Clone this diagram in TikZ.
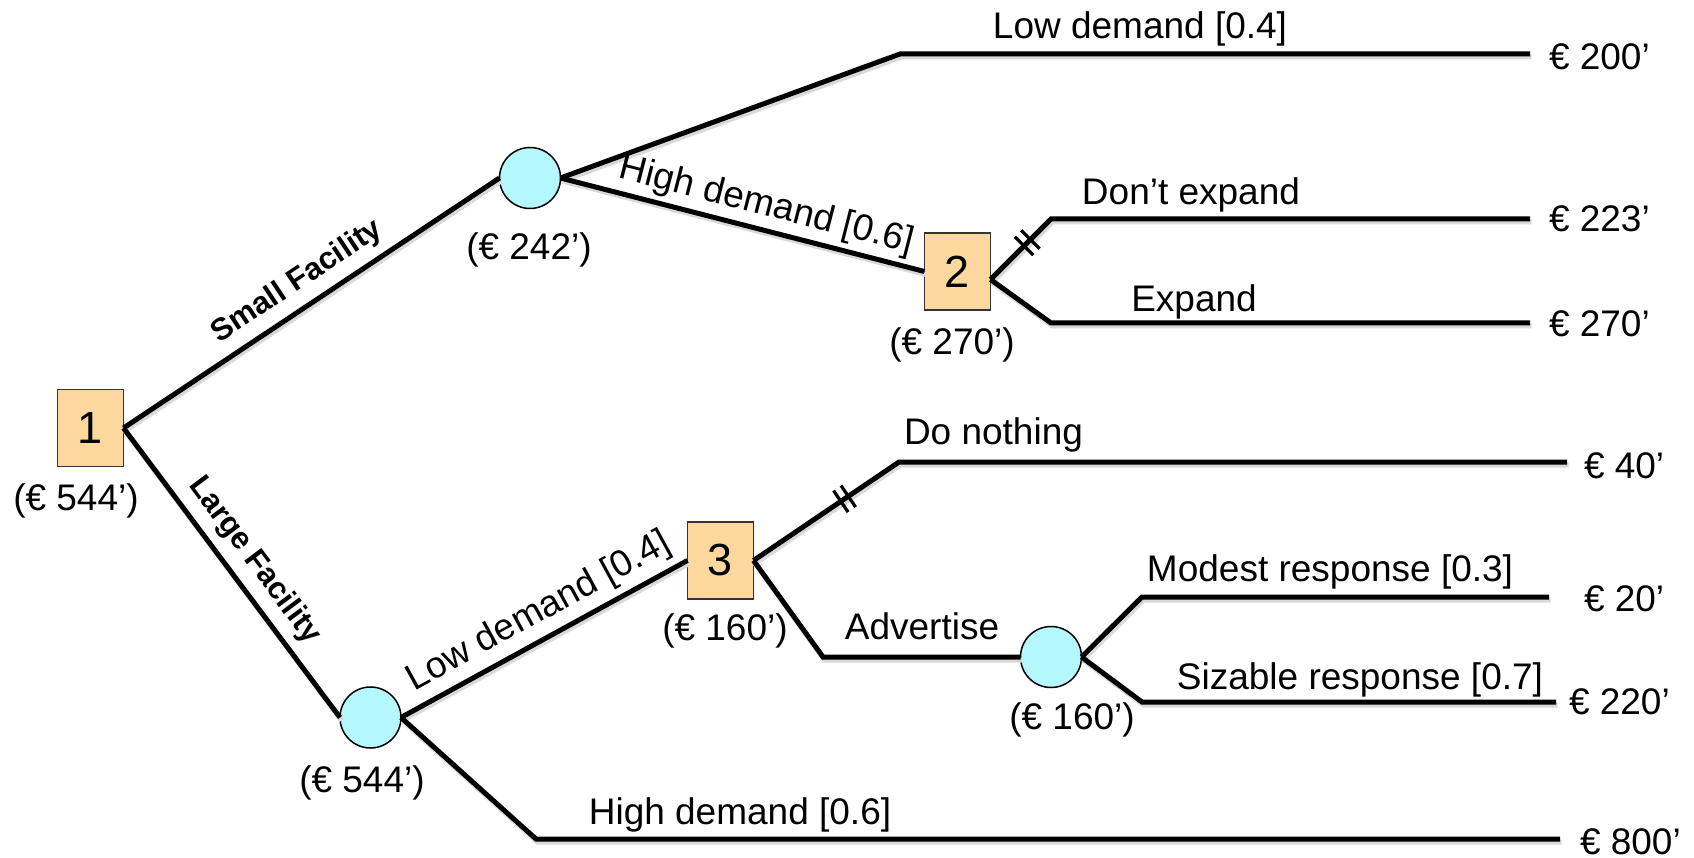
\documentclass[tikz,border=0pt]{standalone}
\usepackage{fontspec}
\setmainfont{Liberation Sans}
\usetikzlibrary{calc,decorations.markings}
\definecolor{decfill}{HTML}{FCD89E}
\definecolor{chfill}{HTML}{B4F7FC}
\begin{document}
\begin{tikzpicture}[x=1pt,y=-1pt,
 every node/.style={inner sep=0pt,outer sep=0pt},
 decbox/.style={rectangle,draw=black!80,line width=1.5pt,fill=decfill,minimum width=66pt,minimum height=77pt,font=\fontsize{45}{45}\selectfont},
 chnode/.style={circle,draw=black,line width=1.5pt,fill=chfill,minimum size=61pt},
 branch/.style={line width=5pt,preaction={draw=black!15,line width=5pt,transform canvas={shift={(1.5pt,-3pt)}}}},
 txt/.style={font=\fontsize{37}{40}\selectfont,anchor=base},
 val/.style={font=\fontsize{37}{40}\selectfont,anchor=base west},
 fac/.style={font=\bfseries\fontsize{31}{34}\selectfont,sloped,above=11pt},
 slab/.style={font=\fontsize{37}{40}\selectfont,sloped},
 dticks/.style={postaction={decorate},decoration={markings,mark=at position #1 with {\draw[line width=3.2pt] (-4.5pt,-13pt) -- (-4.5pt,13pt) (4.5pt,-13pt) -- (4.5pt,13pt);}}}
]
\useasboundingbox (0,0) rectangle (1694,858);

% decision and chance nodes
\node[decbox] (box1) at (90.5,428) {1};
\node[chnode] (circA) at (530,178) {};
\node[decbox] (box2) at (957.5,271.5) {2};
\node[chnode] (circB) at (370.5,717.5) {};
\node[decbox] (box3) at (720.5,560.5) {3};
\node[chnode] (circC) at (1051,657) {};

% bends and branch ends
\coordinate (kA) at (900,54);   \coordinate (eA) at (1530,54);
\coordinate (k2u) at (1051,219); \coordinate (e2u) at (1530,219);
\coordinate (k2d) at (1051,323); \coordinate (e2d) at (1530,323);
\coordinate (k3u) at (899,462);  \coordinate (e3u) at (1567,462);
\coordinate (k3d) at (823,657);
\coordinate (kCu) at (1142,597); \coordinate (eCu) at (1549,597);
\coordinate (kCd) at (1142,702); \coordinate (eCd) at (1556,702);
\coordinate (kB) at (536,839);   \coordinate (eB) at (1560,839);
\coordinate (o2) at ($(box2.east)+(0,8)$);

% connectors
\draw[branch] (box1.east) -- node[fac,pos=0.5] (lsf) {Small Facility} (circA.west);
\draw[branch] (box1.east) -- node[fac,pos=0.51] (llf) {Large Facility} (circB.west);
\draw[branch] (circA.east) -- (kA) -- (eA);
\draw[branch] (circA.east) -- node[slab,above=7pt,pos=0.55] (lhA) {High demand [0.6]} (box2.west);
\draw[branch,dticks=52pt] (o2) -- (k2u) -- (e2u);
\draw[branch] (o2) -- (k2d) -- (e2d);
\draw[branch] (circB.east) -- node[slab,above=9pt,pos=0.525] (llB) {Low demand [0.4]} (box3.west);
\draw[branch] (circB.east) -- (kB) -- (eB);
\draw[branch,dticks=110pt] (box3.east) -- (k3u) -- (e3u);
\draw[branch] (box3.east) -- (k3d) -- (circC.west);
\draw[branch] (circC.east) -- (kCu) -- (eCu);
\draw[branch] (circC.east) -- (kCd) -- (eCd);

% expected values under nodes
\node[txt] (v1) at (76,510) {(€ 544’)};
\node[txt] (vA) at (529,260) {(€ 242’)};
\node[txt] (v2) at (952,355) {(€ 270’)};
\node[txt] (vB) at (362,792) {(€ 544’)};
\node[txt] (v3) at (725,640) {(€ 160’)};
\node[txt] (vC) at (1072,729) {(€ 160’)};

% branch labels
\node[txt] (lA) at (1140,39) {Low demand [0.4]};
\node[txt] (l2u) at (1191,204.5) {Don’t expand};
\node[txt] (l2d) at (1194,311.5) {Expand};
\node[txt] (l3u) at (993.5,444.5) {Do nothing};
\node[txt] (l3d) at (922,639.5) {Advertise};
\node[txt] (lCu) at (1330,581.5) {Modest response [0.3]};
\node[txt] (lCd) at (1360,689.5) {Sizable response [0.7]};
\node[txt] (lB) at (740,824.5) {High demand [0.6]};

% payoffs
\node[val] (pA) at (1549,69.5) {€ 200’};
\node[val] (p2u) at (1549,231.5) {€ 223’};
\node[val] (p2d) at (1549,336.5) {€ 270’};
\node[val] (p3u) at (1584,478) {€ 40’};
\node[val] (pCu) at (1584,611.5) {€ 20’};
\node[val] (pCd) at (1569,714.5) {€ 220’};
\node[val] (pB) at (1580,854.5) {€ 800’};
\end{tikzpicture}
\end{document}
